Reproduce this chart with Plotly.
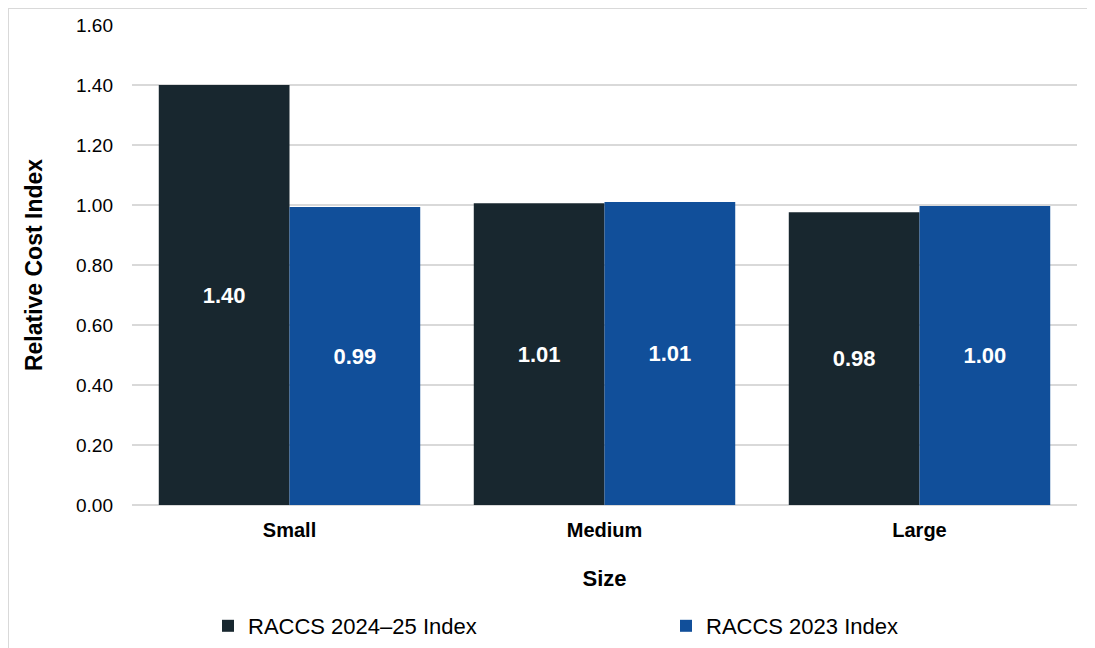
import plotly.graph_objects as go

categories = ["Small", "Medium", "Large"]
series_names = ["RACCS 2024\u201325 Index", "RACCS 2023 Index"]
values_2024 = [1.40, 1.006, 0.976]
values_2023 = [0.993, 1.01, 0.997]
colors = ["#18272f", "#114f9a"]
y_ticks = [0, 0.2, 0.4, 0.6, 0.8, 1.0, 1.2, 1.4, 1.6]

FONT = "Liberation Sans, Arial, sans-serif"

W, H = 1095, 648
OFF = 8  # page body margin offset
PL, PT, PR, PB = 132, 25, 1077, 505  # plot area in screenshot coords
pw, ph = PR - PL, PB - PT

legend_ids = ["legend", "legend2"]
legend_text_x = [248, 706]

fig = go.Figure()
for name, vals, col, lg in zip(series_names, [values_2024, values_2023], colors, legend_ids):
    fig.add_trace(go.Bar(
        x=categories, y=vals, name=name, legend=lg,
        marker=dict(color=col, line=dict(width=0)),
        texttemplate="%{y:.2f}", textposition="inside", insidetextanchor="middle",
        textfont=dict(family=FONT, size=22, color="white", weight="bold"),
        textangle=0,
    ))

legend_common = dict(orientation="h", yanchor="middle", y=-(626 - PB) / ph,
                     xanchor="left", bgcolor="rgba(0,0,0,0)",
                     font=dict(family=FONT, size=22, color="#000000"))

fig.update_layout(
    width=W, height=H,
    margin=dict(l=PL - OFF, r=W + OFF - PR, t=PT - OFF, b=H + OFF - PB, autoexpand=False),
    barmode="group", bargap=0.17, bargroupgap=0,
    plot_bgcolor="white", paper_bgcolor="white",
    font=dict(family=FONT, color="#000000"),
    showlegend=True,
    legend=dict(x=(legend_text_x[0] - 40 - PL) / pw, **legend_common),
    legend2=dict(x=(legend_text_x[1] - 40 - PL) / pw, **legend_common),
    uniformtext=dict(minsize=22, mode="show"),
    xaxis=dict(
        title=dict(text="<b>Size</b>", font=dict(family=FONT, size=22), standoff=30),
        tickfont=dict(family=FONT, size=20, weight="bold"),
        showgrid=False, showline=False, ticks="", automargin=False,
        ticklabelstandoff=11,
    ),
    yaxis=dict(
        title=dict(text="<b>Relative Cost Index</b>", font=dict(family=FONT, size=23), standoff=26),
        tickvals=y_ticks, tickformat=".2f", range=[0, 1.6],
        tickfont=dict(family=FONT, size=19),
        showgrid=True, gridcolor="#d9d9d9", gridwidth=1.5,
        zeroline=True, zerolinecolor="#d9d9d9", zerolinewidth=1.5,
        showline=False, ticklabelstandoff=18, automargin=False,
    ),
    shapes=[dict(type="rect", xref="paper", yref="paper",
                 x0=(8 - PL) / pw, x1=(1120 - PL) / pw,
                 y0=-(670 - PB) / ph, y1=(PB - 8) / ph,
                 line=dict(color="#d9d9d9", width=2), fillcolor="rgba(0,0,0,0)", layer="below")],
)

fig.write_html("out.html")
